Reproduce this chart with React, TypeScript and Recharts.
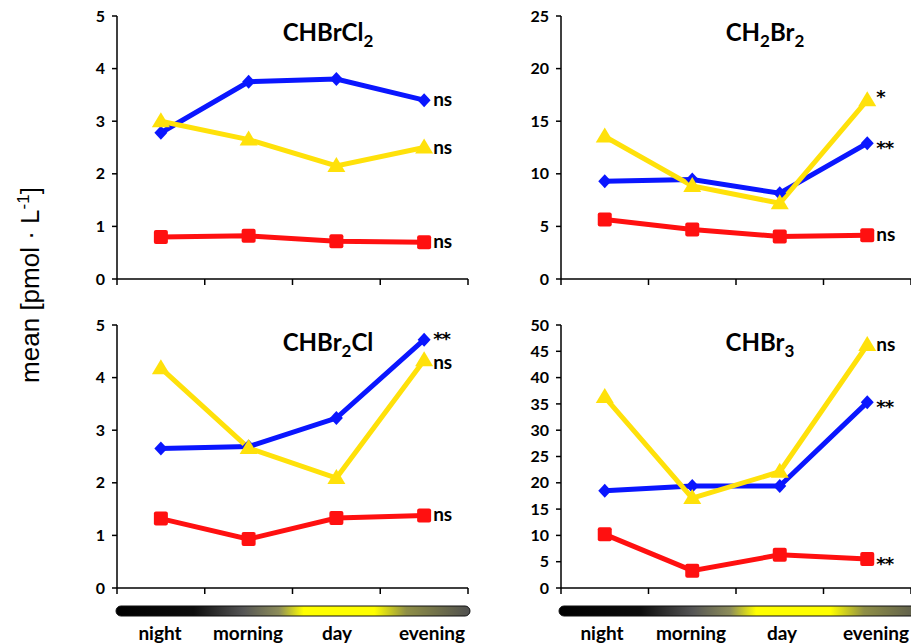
import { LineChart, Line, XAxis, YAxis } from "recharts";

const categories = ["night", "morning", "day", "evening"];

// CHBrCl2
const chbrcl2Blue = [2.78, 3.75, 3.8, 3.4];
const chbrcl2Yellow = [3.0, 2.65, 2.15, 2.5];
const chbrcl2Red = [0.8, 0.82, 0.72, 0.7];
const chbrcl2Sig = ["ns", "ns", "ns"];

// CH2Br2
const ch2br2Blue = [9.3, 9.45, 8.15, 12.9];
const ch2br2Yellow = [13.55, 8.85, 7.2, 17.0];
const ch2br2Red = [5.65, 4.7, 4.05, 4.15];
const ch2br2Sig = ["**", "*", "ns"];

// CHBr2Cl
const chbr2clBlue = [2.65, 2.69, 3.23, 4.72];
const chbr2clYellow = [4.18, 2.66, 2.09, 4.33];
const chbr2clRed = [1.32, 0.93, 1.33, 1.38];
const chbr2clSig = ["**", "ns", "ns"];

// CHBr3
const chbr3Blue = [18.5, 19.4, 19.4, 35.3];
const chbr3Yellow = [36.3, 17.1, 22.1, 46.2];
const chbr3Red = [10.2, 3.3, 6.3, 5.5];
const chbr3Sig = ["**", "ns", "**"];

const BLUE = "#0a16ff";
const YELLOW = "#ffe10a";
const RED = "#ff1010";
const TICK_FONT = "Lato, 'Open Sans', sans-serif";

type Panel = {
  title: [string, boolean][];
  blue: number[];
  yellow: number[];
  red: number[];
  sig: string[];
  max: number;
  step: number;
  left: number;
  top: number;
  titleX: number;
  titleY: number;
  nudge: number[];
};

const ticksFor = (max: number, step: number) => {
  const t: number[] = [];
  for (let v = 0; v <= max + 1e-9; v += step) t.push(v);
  return t;
};

const panels: Panel[] = [
  {
    title: [["CHBrCl", false], ["2", true]],
    blue: chbrcl2Blue, yellow: chbrcl2Yellow, red: chbrcl2Red, sig: chbrcl2Sig,
    max: 5, step: 1, left: 70, top: 0, titleX: 328, titleY: 41, nudge: [0, 0, 0],
  },
  {
    title: [["CH", false], ["2", true], ["Br", false], ["2", true]],
    blue: ch2br2Blue, yellow: ch2br2Yellow, red: ch2br2Red, sig: ch2br2Sig,
    max: 25, step: 5, left: 514, top: 0, titleX: 765, titleY: 41, nudge: [0, -8, 0],
  },
  {
    title: [["CHBr", false], ["2", true], ["Cl", false]],
    blue: chbr2clBlue, yellow: chbr2clYellow, red: chbr2clRed, sig: chbr2clSig,
    max: 5, step: 1, left: 70, top: 309, titleX: 328, titleY: 351, nudge: [-6, 3, 0],
  },
  {
    title: [["CHBr", false], ["3", true]],
    blue: chbr3Blue, yellow: chbr3Yellow, red: chbr3Red, sig: chbr3Sig,
    max: 50, step: 5, left: 514, top: 309, titleX: 760, titleY: 351, nudge: [0, 0, 0],
  },
];

const Diamond = (p: any) => (
  <path
    key={`d-${p.index}`}
    d={`M${p.cx},${p.cy - 7} L${p.cx + 6.5},${p.cy} L${p.cx},${p.cy + 7} L${p.cx - 6.5},${p.cy} Z`}
    fill={BLUE}
  />
);
const Square = (p: any) => (
  <rect key={`s-${p.index}`} x={p.cx - 7} y={p.cy - 7} width={14} height={14} rx={2} fill={RED} />
);
const Triangle = (p: any) => (
  <path
    key={`t-${p.index}`}
    d={`M${p.cx},${p.cy - 9} L${p.cx + 9},${p.cy + 6} L${p.cx - 9},${p.cy + 6} Z`}
    fill={YELLOW}
  />
);

const sigLabel = (text: string, nudge: number) => (p: any) => {
  if (p.index !== categories.length - 1) return <g key={`l-${p.index}`} />;
  const star = text.includes("*");
  return (
    <text
      key={`l-${p.index}`}
      x={p.x + 9}
      y={p.y + (star ? 11 : 6) + nudge}
      fontFamily={star ? "'DejaVu Sans', sans-serif" : TICK_FONT}
      fontWeight="bold"
      fontSize={star ? 18 : 19}
      letterSpacing={star ? -1 : 0}
      fill="#000"
      textAnchor="start"
    >
      {text}
    </text>
  );
};

function PanelChart({ panel }: { panel: Panel }) {
  const data = categories.map((c, i) => ({
    name: c,
    x: i + 0.5,
    blue: panel.blue[i],
    yellow: panel.yellow[i],
    red: panel.red[i],
  }));
  return (
    <div style={{ position: "absolute", left: panel.left, top: panel.top }}>
      <LineChart
        width={panel.left > 300 ? 397 : 400}
        height={299}
        data={data}
        margin={{ top: 16, right: panel.left > 300 ? 0 : 2, left: 0, bottom: 0 }}
      >
        <XAxis
          type="number"
          dataKey="x"
          domain={[0, categories.length]}
          ticks={categories.map((_, i) => i).concat(categories.length)}
          tickFormatter={() => ""}
          height={20}
          stroke="#000"
          strokeWidth={1.5}
          tickSize={6}
          allowDataOverflow
        />
        <YAxis
          type="number"
          domain={[0, panel.max]}
          ticks={ticksFor(panel.max, panel.step)}
          width={47}
          stroke="#000"
          strokeWidth={1.5}
          tickSize={5}
          tickMargin={7}
          tick={{ fontFamily: TICK_FONT, fontWeight: "bold", fontSize: 16, fill: "#000" }}
          interval={0}
        />
        <Line
          dataKey="red"
          stroke={RED}
          strokeWidth={5}
          dot={Square}
          activeDot={false}
          isAnimationActive={false}
          label={sigLabel(panel.sig[2], panel.nudge[2])}
        />
        <Line
          dataKey="blue"
          stroke={BLUE}
          strokeWidth={5}
          dot={Diamond}
          activeDot={false}
          isAnimationActive={false}
          label={sigLabel(panel.sig[0], panel.nudge[0])}
        />
        <Line
          dataKey="yellow"
          stroke={YELLOW}
          strokeWidth={5}
          dot={Triangle}
          activeDot={false}
          isAnimationActive={false}
          label={sigLabel(panel.sig[1], panel.nudge[1])}
        />
      </LineChart>
    </div>
  );
}

const bottomLabelX = [
  [160, 248, 337, 432],
  [602, 691, 782, 876],
];

export default function App() {
  return (
    <div style={{ position: "absolute", left: 0, top: 0, width: 911, height: 644, background: "#fff", overflow: "hidden" }}>
      <svg width={911} height={644} style={{ position: "absolute", left: 0, top: 0 }}>
        <defs>
          <linearGradient id="daygrad" x1="0" x2="1" y1="0" y2="0">
            <stop offset="0" stopColor="#000" />
            <stop offset="0.22" stopColor="#0d0d0d" />
            <stop offset="0.36" stopColor="#555" />
            <stop offset="0.46" stopColor="#8c8c5a" />
            <stop offset="0.53" stopColor="#ffff00" />
            <stop offset="0.73" stopColor="#ffff00" />
            <stop offset="0.82" stopColor="#8f8f46" />
            <stop offset="1" stopColor="#505050" />
          </linearGradient>
        </defs>
        <text
          transform="translate(39,285) rotate(-90)"
          textAnchor="middle"
          fontFamily="'Liberation Sans', Arial, sans-serif"
          fontSize={26}
          fill="#000"
        >
          mean [pmol · L
          <tspan dy={-10} fontSize={17}>-1</tspan>
          <tspan dy={10}>]</tspan>
        </text>
        {panels.map((p, i) => (
          <text
            key={`title-${i}`}
            x={p.titleX}
            y={p.titleY}
            textAnchor="middle"
            fontFamily={TICK_FONT}
            fontWeight="bold"
            fontSize={24}
            fill="#000"
          >
            {p.title.map(([t, sub], j) => {
              const prevSub = j > 0 && p.title[j - 1][1];
              const dy = sub ? 6 : prevSub ? -6 : 0;
              return (
                <tspan key={j} dy={dy} fontSize={sub ? 17 : 24}>
                  {t}
                </tspan>
              );
            })}
          </text>
        ))}
        <rect x={116} y={606} width={354} height={10} rx={5} fill="url(#daygrad)" stroke="#111" strokeWidth={1} />
        <rect x={559} y={606} width={372} height={10} rx={5} fill="url(#daygrad)" stroke="#111" strokeWidth={1} />
        {bottomLabelX.map((row, r) =>
          row.map((x, i) => (
            <text
              key={`cat-${r}-${i}`}
              x={x}
              y={640}
              textAnchor="middle"
              fontFamily={TICK_FONT}
              fontWeight="bold"
              fontSize={19}
              fill="#000"
            >
              {categories[i]}
            </text>
          ))
        )}
      </svg>
      {panels.map((p, i) => (
        <PanelChart key={i} panel={p} />
      ))}
    </div>
  );
}
